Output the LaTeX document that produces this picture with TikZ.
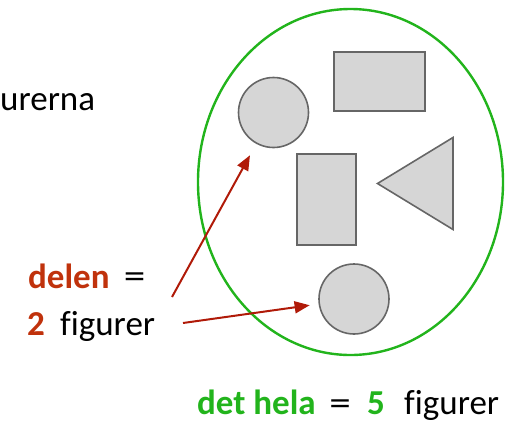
\documentclass[tikz,border=0pt]{standalone}
\usepackage{fontspec}
\setmainfont[Ligatures={NoCommon}]{Carlito}
\newfontfamily\eqfont{DejaVu Sans}
\usetikzlibrary{arrows.meta}
\definecolor{partred}{HTML}{C0320C}
\definecolor{arrowred}{HTML}{B01A08}
\definecolor{wholegreen}{HTML}{22B41C}
\definecolor{shapefill}{HTML}{D6D6D6}
\definecolor{shapeline}{HTML}{666666}
\tikzset{
  fig/.style={draw=shapeline, fill=shapefill, line width=1.6pt, inner sep=0pt},
  circfig/.style={fig, circle, minimum size=70pt},
  lbl/.style={inner sep=0pt, anchor=base west, font=\fontsize{35}{40}\selectfont},
  eqsign/.style={inner sep=0pt, anchor=center, font=\eqfont\fontsize{28}{32}\selectfont},
  pointer/.style={draw=arrowred, line width=2pt, -{Triangle[length=15pt,width=12pt]}},
}
\begin{document}
\begin{tikzpicture}[x=1pt,y=-1pt]
\useasboundingbox (0,0) rectangle (515,424);
% whole set
\draw[wholegreen, line width=2.4pt] (350.5,182) ellipse [x radius=152.5, y radius=173];
% figures
\node[circfig] (c1) at (273.5,112.5) {};
\node[fig, minimum width=91pt, minimum height=58.5pt] (r1) at (379.5,81.5) {};
\node[fig, minimum width=59pt, minimum height=91pt] (r2) at (326.5,199.5) {};
\draw[fig] (377.5,183.5) -- (453,137.5) -- (453,229.5) -- cycle;
\node[circfig] (c2) at (354,299) {};
% texts
\node[lbl] (top) at (0,110) {urerna};
\node[lbl, text=partred] (delen) at (28,288) {\textbf{delen}};
\node[eqsign] (eq1) at (134.5,279.5) {=};
\node[lbl, text=partred] (two) at (27,335) {\textbf{2}};
\node[lbl] (fig1) at (60,335) {figurer};
\node[lbl, text=wholegreen] (hela) at (197,414) {\textbf{det hela}};
\node[eqsign] (eq2) at (340,406.5) {=};
\node[lbl, text=wholegreen] (five) at (367,414) {\textbf{5}};
\node[lbl] (fig2) at (404,414) {figurer};
% pointers
\coordinate (s1) at (172,297);
\coordinate (s2) at (183,323);
\draw[pointer, shorten >=13pt] (s1) -- (c1);
\draw[pointer, shorten >=9pt] (s2) -- (c2);
\end{tikzpicture}
\end{document}
